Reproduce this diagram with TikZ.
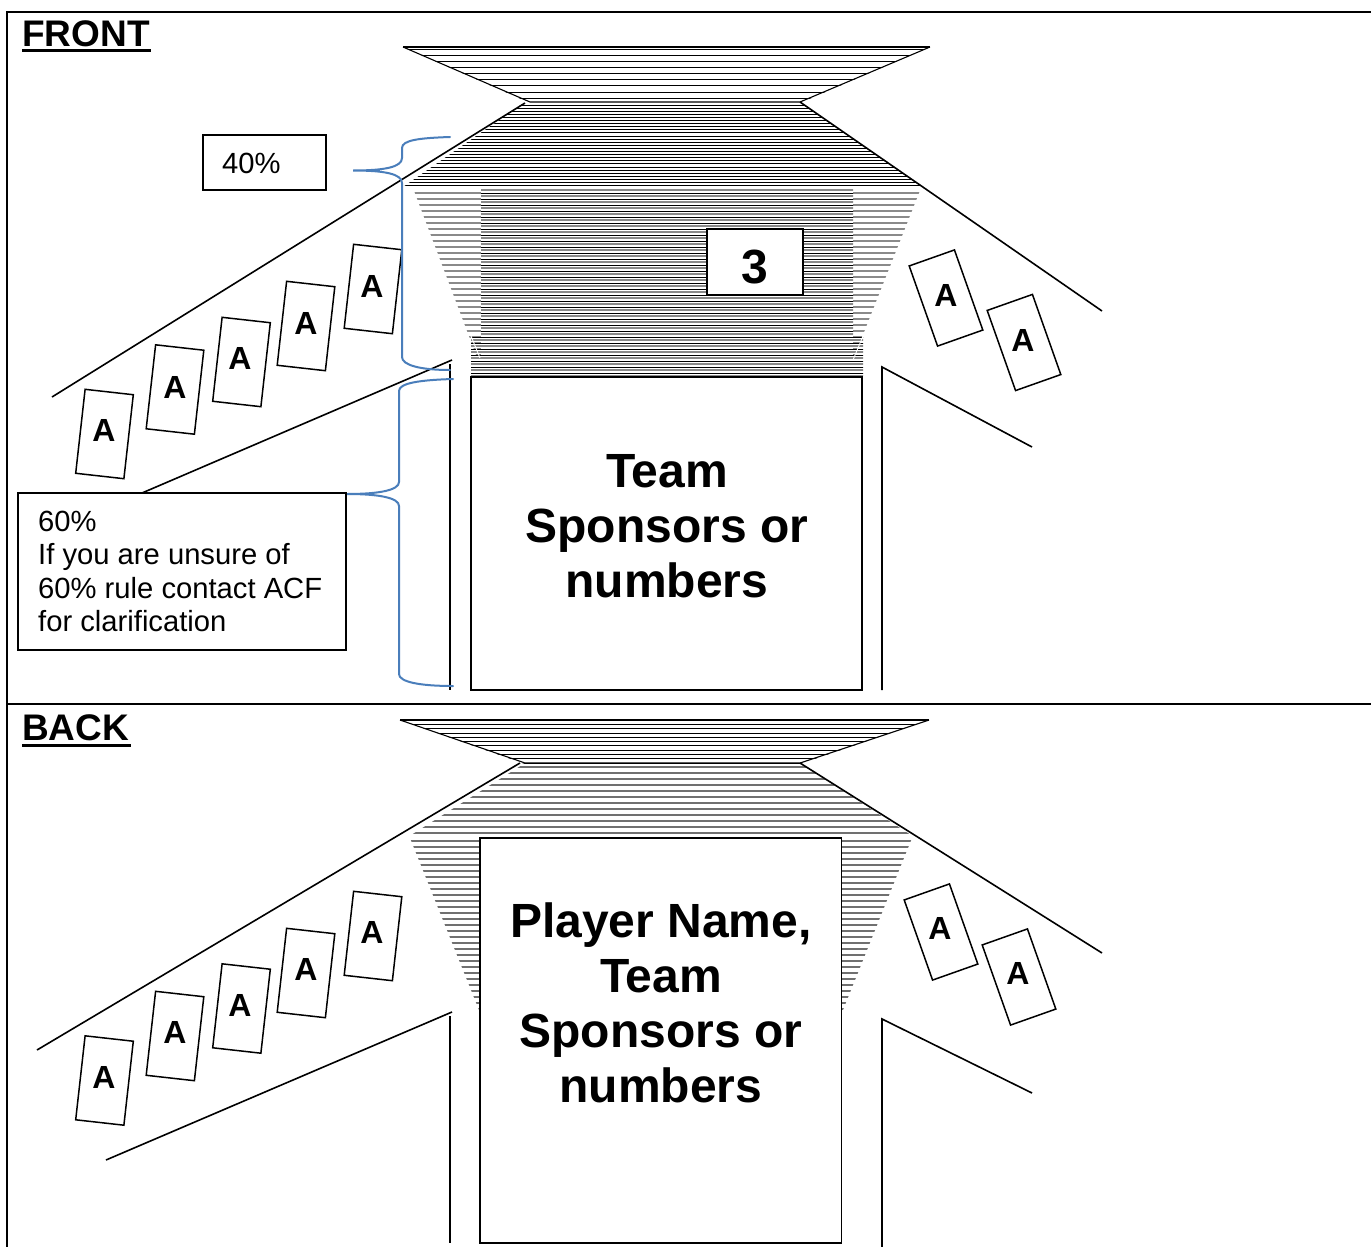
\documentclass[tikz,border=0pt]{standalone}
\usepackage{fontspec}
\setmainfont{Liberation Sans}
\definecolor{bluebrace}{HTML}{4A7EBB}
\definecolor{hatchgrey}{HTML}{8A8A8A}
\definecolor{hatchmid}{HTML}{707070}
\tikzset{
  outline/.style={draw=black,line width=1.6pt},
  collar/.style={draw=black,line width=1.1pt},
  frameline/.style={draw=black,line width=1.5pt},
  whitebox/.style={draw=black,line width=1.8pt,fill=white,inner sep=0pt},
  card/.style={draw=black,line width=1.5pt,fill=white,minimum width=48.5pt,minimum height=84.5pt,inner sep=0pt},
  cardr/.style={draw=black,line width=1.5pt,fill=white,minimum width=48pt,minimum height=85pt,inner sep=0pt},
  cardtext/.style={font=\fontsize{32}{36}\selectfont\bfseries,inner sep=0pt},
  bigtext/.style={font=\fontsize{48}{55}\selectfont\bfseries,align=center,inner sep=0pt},
  smalltext/.style={font=\fontsize{29.2}{33.5}\selectfont,align=left,inner sep=0pt},
  headtext/.style={font=\fontsize{37}{40}\selectfont\bfseries,anchor=west,inner sep=0pt},
  brace/.style={draw=bluebrace,line width=2pt,line cap=round},
  hatchk/.style={draw=black,line width=1pt},
  hatchg/.style={draw=hatchgrey,line width=1.6pt},
  hatchm/.style={draw=hatchmid,line width=1.5pt},
}
\newcommand{\cardL}[5]{\node[card,rotate=-6.4] (#1) at (#2,#3) {}; \node[cardtext] (#1t) at (#4,#5) {A};}
\newcommand{\cardR}[5]{\node[cardr,rotate=19.5] (#1) at (#2,#3) {}; \node[cardtext] (#1t) at (#4,#5) {A};}
\begin{document}
\begin{tikzpicture}[x=1pt,y=-1pt]
\useasboundingbox (0,0) rectangle (1371,1247);
\fill[white] (0,0) rectangle (1371,1247);
% frame
\draw[frameline] (7,1247) -- (7,12) -- (1371,12);
\draw[frameline] (7,704) -- (1371,704);
\node[headtext] (front) at (22,34) {FRONT};
\draw[black,line width=3pt] (22,51) -- (151,51);
\node[headtext] (back) at (22,728) {BACK};
\draw[black,line width=3pt] (22,745) -- (131,745);

% ---------- FRONT hatching
\begin{scope}
\clip (403,47) -- (930,47) -- (800,103) -- (530,103) -- cycle;
\foreach \y in {50,56,...,103} \draw[hatchk] (400,\y) -- (935,\y);
\end{scope}
\begin{scope}
\clip (525,102) -- (800,102) -- (923,187) -- (403,187) -- cycle;
\foreach \y in {105,108.1,...,188} \draw[hatchk,line width=0.9pt] (400,\y) -- (930,\y);
\end{scope}
\begin{scope}
\clip (413,188) -- (481,188) -- (481,360) -- (478,360) -- cycle;
\foreach \y in {193,199,...,360} \draw[hatchg] (405,\y) -- (481,\y);
\end{scope}
\begin{scope}
\clip (853,188) -- (921,188) -- (853,360) -- cycle;
\foreach \y in {193,199,...,360} \draw[hatchg] (853,\y) -- (925,\y);
\end{scope}
\begin{scope}
\clip (481,188) -- (853,188) -- (853,335) -- (863,335) -- (863,376) -- (471,376) -- (471,335) -- (481,335) -- cycle;
\foreach \y in {190,196,...,376} \draw[hatchg,line width=1.4pt] (465,\y) -- (870,\y);
\foreach \y in {193,199,...,376} \draw[hatchk] (465,\y) -- (870,\y);
\end{scope}
\draw[white,line width=0.9pt] (471,336) -- (480,358);
\draw[white,line width=0.9pt] (863,336) -- (853,360);

% FRONT outlines
\draw[collar] (403,47) -- (930,47);
\draw[collar] (403,47) -- (530,102) -- (800,102) -- (930,47);
\draw[outline] (52,397) -- (525,103);
\draw[outline] (800,102) -- (1102,311);
\draw[outline] (452,360) -- (142,493);
\draw[outline] (450,364) -- (450,690);
\draw[outline] (882,690) -- (882,367) -- (1032,447);

\node[whitebox,minimum width=391pt,minimum height=313pt] (teambox) at (666.5,533.5) {};
\node[bigtext] (teamtext) at (667,526) {Team\\Sponsors or\\numbers};
\node[whitebox,line width=1.5pt,minimum width=96pt,minimum height=66pt] (threebox) at (755,262) {};
\node[font=\fontsize{48}{50}\selectfont\bfseries,inner sep=0pt] (three) at (755,267) {3};

\node[whitebox,line width=1.5pt,minimum width=123pt,minimum height=55pt] (fortybox) at (264.5,162.5) {};
\node[smalltext,anchor=west] (forty) at (222,163) {40\%};
\node[whitebox,line width=1.5pt,minimum width=328pt,minimum height=157pt] (sixtybox) at (182,571.5) {};
\node[smalltext,anchor=north west] (sixty) at (38,510.5) {60\%\\If you are unsure of\\60\% rule contact ACF\\for clarification};

% FRONT cards
\cardL{fa}{104.5}{434}{104}{430}
\cardL{fb}{175}{389.5}{175}{387}
\cardL{fc}{241.5}{362}{240}{358}
\cardL{fd}{306}{326}{306}{323}
\cardL{fe}{373}{289}{372}{286}
\cardR{ff}{946}{298}{946}{295}
\cardR{fg}{1024}{342.5}{1023}{340}

% braces
\draw[brace] (450,137) .. controls (420,138) and (402,140) .. (402,148) -- (402,158) .. controls (402,167) and (385,170.5) .. (353,170.5) .. controls (385,170.5) and (402,174) .. (402,183) -- (402,357) .. controls (402,365) and (420,370) .. (450,370);
\draw[brace] (453,379) .. controls (420,380) and (399,383) .. (399,391) -- (399,482) .. controls (399,490) and (380,494) .. (347,494) .. controls (380,494) and (399,498) .. (399,506) -- (399,674) .. controls (399,682) and (420,686) .. (453,686);

% ---------- BACK hatching
\begin{scope}
\clip (400,720) -- (929,720) -- (800,764) -- (525,764) -- cycle;
\foreach \y in {724.3,728.6,...,764} \draw[hatchk,line width=0.8pt] (395,\y) -- (935,\y);
\end{scope}
\begin{scope}
\clip (522,765) -- (803,765) -- (914,837) -- (408,837) -- cycle;
\foreach \y in {767,773,...,837} \draw[hatchm] (400,\y) -- (920,\y);
\end{scope}
\begin{scope}
\clip (410,838) -- (481,838) -- (481,1015) -- cycle;
\foreach \y in {841,847,...,1015} \draw[hatchm] (400,\y) -- (481,\y);
\end{scope}
\begin{scope}
\clip (841,838) -- (912,838) -- (841,1015) -- cycle;
\foreach \y in {841,847,...,1015} \draw[hatchm] (841,\y) -- (920,\y);
\end{scope}

% BACK outlines
\draw[collar] (400,720) -- (929,720);
\draw[collar] (400,720) -- (525,763) -- (800,763) -- (929,720);
\draw[outline] (37,1050) -- (520,763);
\draw[outline] (800,763) -- (1102,953);
\draw[outline] (452,1012) -- (106,1160);
\draw[outline] (450,1016) -- (450,1243);
\draw[outline] (882,1247) -- (882,1019) -- (1032,1093);
\draw[whitebox] (480,838) rectangle (841.5,1243);
\node[bigtext] (backtext) at (661,1003) {Player Name,\\Team\\Sponsors or\\numbers};

% BACK cards
\cardL{ba}{104.5}{1080.5}{104}{1077}
\cardL{bb}{175}{1036}{175}{1032}
\cardL{bc}{241.5}{1008.5}{240}{1005}
\cardL{bd}{306}{973}{306}{969}
\cardL{be}{373}{936}{372}{932}
\cardR{bf}{941}{932}{940}{928}
\cardR{bg}{1019}{977}{1018}{973}
\end{tikzpicture}
\end{document}
